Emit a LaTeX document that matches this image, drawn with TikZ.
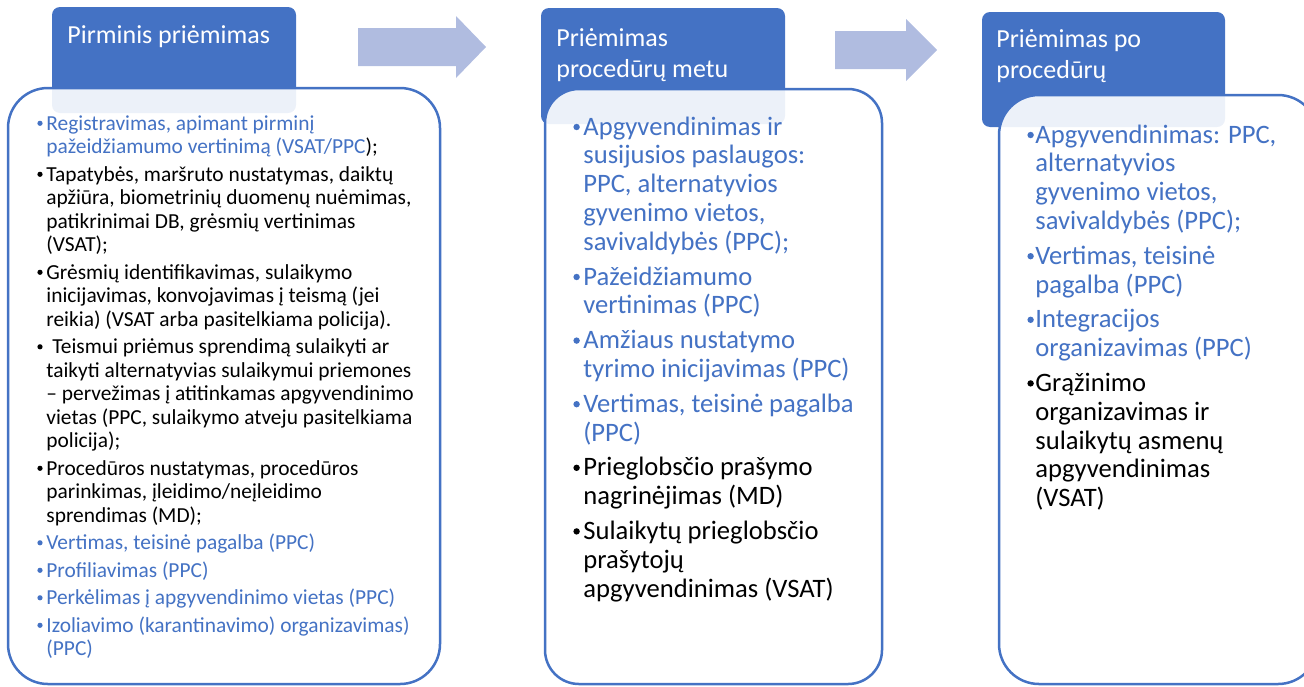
\documentclass[tikz,border=0pt]{standalone}
\usepackage{fontspec}
\setmainfont{Carlito}
\usetikzlibrary{fit}
\definecolor{blueT}{HTML}{4472C4}
\definecolor{arrowC}{HTML}{B0BCE0}
\newcommand{\blu}[1]{\textcolor{blueT}{#1}}
% bullet dot: radius, centre height, colour
\newcommand{\dotb}[3]{\tikz[baseline=0pt]\fill[#3] (#1,#2) circle[radius=#1];}
\newcommand{\bA}{\makebox[5pt][l]{\hspace{0.5pt}\dotb{1.3pt}{3.35pt}{black}}}
\newcommand{\bAb}{\makebox[5pt][l]{\hspace{0.5pt}\dotb{1.3pt}{3.35pt}{blueT}}}
\newcommand{\bB}{\makebox[6.5pt][l]{\hspace{1.5pt}\dotb{1.6pt}{4pt}{black}}}
\newcommand{\bBb}{\makebox[6.5pt][l]{\hspace{1.5pt}\dotb{1.6pt}{4pt}{blueT}}}
\newcommand{\bC}{\makebox[6.5pt][l]{\hspace{2.5pt}\dotb{1.6pt}{4pt}{black}}}
\newcommand{\bCb}{\makebox[6.5pt][l]{\hspace{2.5pt}\dotb{1.6pt}{4pt}{blueT}}}
\begin{document}
\begin{tikzpicture}[x=0.5pt,y=-0.5pt,
 hdr/.style={fill=blueT, draw=none, rounded corners=4pt, inner sep=0pt},
 cbox/.style={fill=white, fill opacity=0.9, draw=blueT, draw opacity=1, line width=1.25pt, rounded corners=20pt, inner sep=0pt},
 htext/.style={text=white, font=\fontsize{13}{15.5}\selectfont, inner sep=0pt, anchor=base west},
 ltext/.style={font=\fontsize{10.7}{11.75}\selectfont, inner sep=0pt, anchor=base west},
 mtext/.style={font=\fontsize{13.3}{14.4}\selectfont, inner sep=0pt, anchor=base west},
 arr/.style={fill=arrowC, draw=none}]
\useasboundingbox (0,0) rectangle (1304,686);
\clip (0,0) rectangle (1304,686);

% arrows
\path[arr] (358,28) -- (456,28) -- (456,16) -- (486,47) -- (456,78) -- (456,66) -- (358,66) -- cycle;
\path[arr] (835,31) -- (906,31) -- (906,19) -- (937,50) -- (906,81) -- (906,69) -- (835,69) -- cycle;

% headers
\node[hdr, fit={(52,7)(296,113)}] (hdrA) {};
\node[hdr, fit={(541,8)(785,124)}] (hdrB) {};
\node[hdr, fit={(982,12)(1225,127)}] (hdrC) {};

% content boxes
\node[cbox, fit={(8,88)(440,684)}] (boxA) {};
\node[cbox, rounded corners=17pt, fit={(545,89)(882,684)}] (boxB) {};
\node[cbox, fit={(999,95)(1318,684)}] (boxC) {};

% header texts
\node[htext] (tA) at (67,43) {Pirminis priėmimas};
\node[htext] (tB) at (556,46) {\begin{tabular}[t]{@{}l@{}}Priėmimas\\procedūrų metu\end{tabular}};
\node[htext] (tC) at (996,47) {\begin{tabular}[t]{@{}l@{}}Priėmimas po\\procedūrų\end{tabular}};

% left list
\node[ltext] (listA) at (36,130) {\begin{tabular}[t]{@{}l@{}l@{}}
\bAb&\blu{Registravimas, apimant pirminį}\\
&\blu{pažeidžiamumo vertinimą (VSAT/PPC});\\[2pt]
\bA&Tapatybės, maršruto nustatymas, daiktų\\
&apžiūra, biometrinių duomenų nuėmimas,\\
&patikrinimai DB, grėsmių vertinimas\\
&(VSAT);\\[2pt]
\bA&Grėsmių identifikavimas, sulaikymo\\
&inicijavimas, konvojavimas į teismą (jei\\
&reikia) (VSAT arba pasitelkiama policija).\\[2pt]
\bA&\hspace{3pt}Teismui priėmus sprendimą sulaikyti ar\\
&taikyti alternatyvias sulaikymui priemones\\
&– pervežimas į atitinkamas apgyvendinimo\\
&vietas (PPC, sulaikymo atveju pasitelkiama\\
&policija);\\[2pt]
\bA&Procedūros nustatymas, procedūros\\
&parinkimas, įleidimo/neįleidimo\\
&sprendimas (MD);\\[2pt]
\bAb&\blu{Vertimas, teisinė pagalba (PPC)}\\[2pt]
\bAb&\blu{Profiliavimas (PPC)}\\[2pt]
\bAb&\blu{Perkėlimas į apgyvendinimo vietas (PPC)}\\[2pt]
\bAb&\blu{Izoliavimo (karantinavimo) organizavimas)}\\
&\blu{(PPC)}
\end{tabular}};

% middle list
\node[mtext] (listB) at (570,135) {\begin{tabular}[t]{@{}l@{}l@{}}
\bBb&\blu{Apgyvendinimas ir}\\
&\blu{susijusios paslaugos:}\\
&\blu{PPC, alternatyvios}\\
&\blu{gyvenimo vietos,}\\
&\blu{savivaldybės (PPC);}\\[3pt]
\bBb&\blu{Pažeidžiamumo}\\
&\blu{vertinimas (PPC)}\\[3pt]
\bBb&\blu{Amžiaus nustatymo}\\
&\blu{tyrimo inicijavimas (PPC)}\\[3pt]
\bBb&\blu{Vertimas, teisinė pagalba}\\
&\blu{(PPC)}\\[3pt]
\bB&Prieglobsčio prašymo\\
&nagrinėjimas (MD)\\[3pt]
\bB&Sulaikytų prieglobsčio\\
&prašytojų\\
&apgyvendinimas (VSAT)
\end{tabular}};

% right list
\node[mtext] (listC) at (1022,143) {\begin{tabular}[t]{@{}l@{}l@{}}
\bCb&\blu{Apgyvendinimas: PPC,}\\
&\blu{alternatyvios}\\
&\blu{gyvenimo vietos,}\\
&\blu{savivaldybės (PPC);}\\[3pt]
\bCb&\blu{Vertimas, teisinė}\\
&\blu{pagalba (PPC)}\\[3pt]
\bCb&\blu{Integracijos}\\
&\blu{organizavimas (PPC)}\\[3pt]
\bC&Grąžinimo\\
&organizavimas ir\\
&sulaikytų asmenų\\
&apgyvendinimas\\
&(VSAT)
\end{tabular}};
\end{tikzpicture}
\end{document}
